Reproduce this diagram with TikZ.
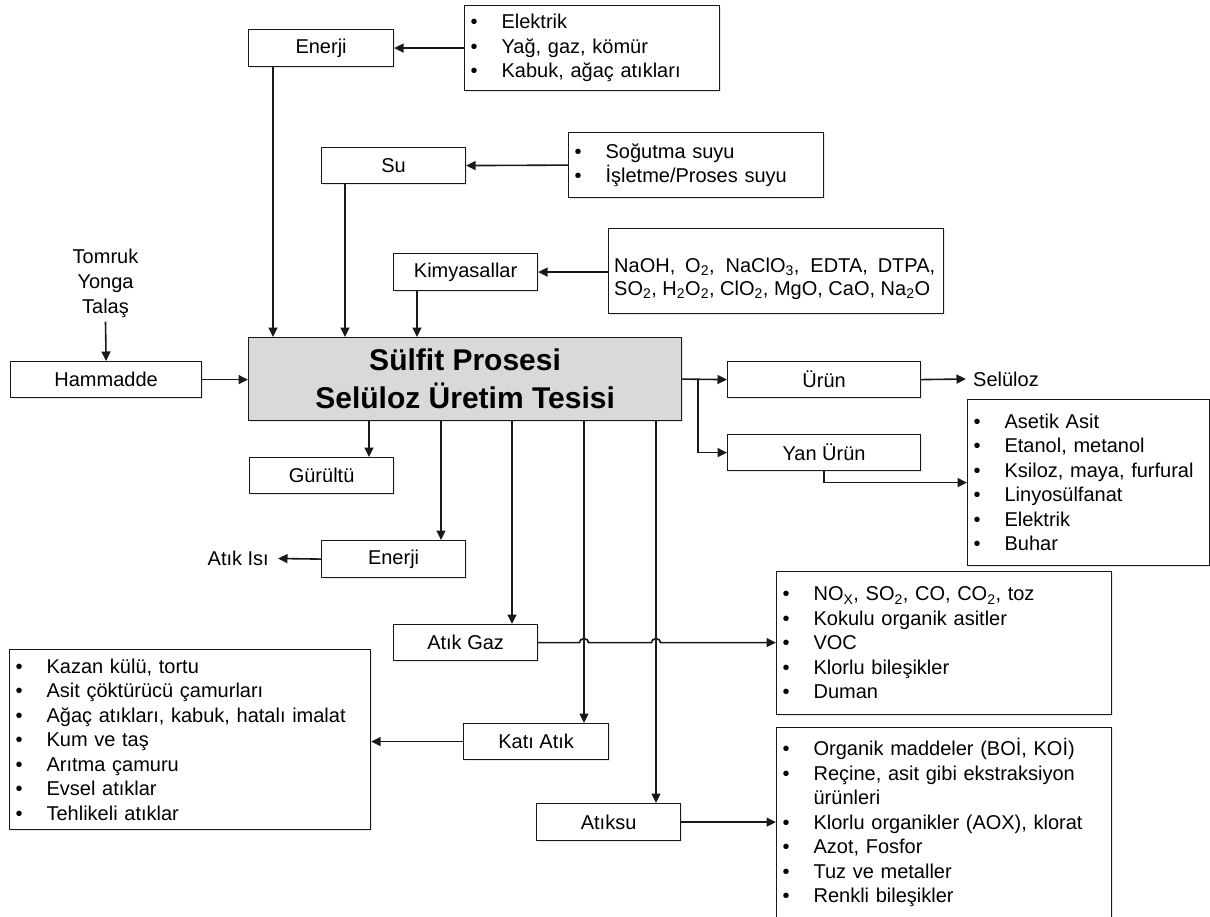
\documentclass[tikz,border=0pt]{standalone}
\usepackage{fontspec}
\setmainfont{Liberation Sans}
\usetikzlibrary{arrows.meta,calc,shadows}

% bullet line and hanging continuation line for the list boxes
\newcommand{\bitem}[1]{\makebox[31pt][l]{\textbullet}#1}
\newcommand{\bcont}[1]{\hspace*{31pt}#1}

\begin{document}
\begin{tikzpicture}[x=1pt,y=-1pt,
  box/.style={draw=black!90, line width=1.2pt, fill=white, anchor=north west,
    inner sep=0pt, font=\fontsize{20}{24.5}\selectfont,
    drop shadow={opacity=0.18, shadow xshift=1.5pt, shadow yshift=-1.5pt}},
  smallbox/.style={box, minimum width=#1, minimum height=36pt},
  listbox/.style={box, align=left, inner xsep=6pt},
  plain/.style={inner sep=0pt, font=\fontsize{20}{24.5}\selectfont},
  arr/.style={line width=1.6pt, draw=black!90, -{Triangle[length=9.5pt,width=9pt]}},
]
\useasboundingbox (0,0) rectangle (1210,917);
\clip (0,0) rectangle (1210,917);

% ---------- inputs ----------
\node[smallbox=145pt, minimum height=37pt] (enerji) at (248,29) {Enerji};
\node[listbox, text width=243pt, minimum height=85pt] (elist) at (464,5)
  {\bitem{Elektrik}\\ \bitem{Yağ, gaz, kömür}\\ \bitem{Kabuk, ağaç atıkları}};

\node[smallbox=144pt] (su) at (321,147) {Su};
\node[listbox, text width=243pt, minimum height=65pt] (sulist) at (568,132)
  {\bitem{Soğutma suyu}\\ \bitem{İşletme/Proses suyu}};

\node[smallbox=144pt, minimum height=37pt] (kimya) at (393,253) {Kimyasallar};
\node[box, minimum width=335pt, minimum height=85pt] (chembox) at (608,228) {};
\node[plain, anchor=west, align=left, font=\fontsize{20}{23}\selectfont] (chemtext) at (614,278.5)
  {\makebox[321pt][s]{NaOH, O\textsubscript{2}, NaClO\textsubscript{3}, EDTA, DTPA,}\\
   SO\textsubscript{2}, H\textsubscript{2}O\textsubscript{2}, ClO\textsubscript{2}, MgO, CaO, Na\textsubscript{2}O};

\node[plain, align=center, font=\fontsize{20}{25}\selectfont, inner ysep=4pt] (raw) at (105.5,283)
  {Tomruk\\ Yonga\\ Talaş};
\node[smallbox=191pt] (hammadde) at (10,361) {Hammadde};

% ---------- process ----------
\node[box, fill=black!15, minimum width=433pt, minimum height=83pt, align=center,
  font=\bfseries\fontsize{30}{38}\selectfont] (main) at (248,337)
  {Sülfit Prosesi\\ Selüloz Üretim Tesisi};

% ---------- products ----------
\node[smallbox=193pt] (urun) at (727,361) {Ürün};
\node[plain, anchor=west, inner xsep=7pt] (selu) at (966,379) {Selüloz};
\node[smallbox=193pt] (yan) at (727,434) {Yan Ürün};
\node[listbox, text width=230pt, minimum height=166pt] (yanlist) at (967,399)
  {\bitem{Asetik Asit}\\ \bitem{Etanol, metanol}\\ \bitem{Ksiloz, maya, furfural}\\
   \bitem{Linyosülfanat}\\ \bitem{Elektrik}\\ \bitem{Buhar}};

% ---------- outputs ----------
\node[smallbox=144pt] (gurultu) at (249,457) {Gürültü};
\node[smallbox=144pt, minimum height=37pt] (enerji2) at (321,540) {Enerji};
\node[plain, anchor=east, inner xsep=9pt] (atikisi) at (278,558.5) {Atık Isı};

\node[smallbox=144pt] (atikgaz) at (393,624) {Atık Gaz};
\node[listbox, text width=323pt, minimum height=143pt] (noxlist) at (776,571)
  {\bitem{NO\textsubscript{X}, SO\textsubscript{2}, CO, CO\textsubscript{2}, toz}\\
   \bitem{Kokulu organik asitler}\\ \bitem{VOC}\\ \bitem{Klorlu bileşikler}\\ \bitem{Duman}};

\node[smallbox=145pt] (katiatik) at (463,723) {Katı Atık};
\node[listbox, text width=349pt, minimum height=180pt] (leftlist) at (9,649)
  {\bitem{Kazan külü, tortu}\\ \bitem{Asit çöktürücü çamurları}\\
   \bitem{Ağaç atıkları, kabuk, hatalı imalat}\\ \bitem{Kum ve taş}\\
   \bitem{Arıtma çamuru}\\ \bitem{Evsel atıklar}\\ \bitem{Tehlikeli atıklar}};

\node[smallbox=144pt, minimum height=37pt] (atiksu) at (536,803) {Atıksu};
\node[listbox, text width=323pt, minimum height=190pt] (atiksulist) at (776,727)
  {\bitem{Organik maddeler (BOİ, KOİ)}\\ \bitem{Reçine, asit gibi ekstraksiyon}\\
   \bcont{ürünleri}\\ \bitem{Klorlu organikler (AOX), klorat}\\ \bitem{Azot, Fosfor}\\
   \bitem{Tuz ve metaller}\\ \bitem{Renkli bileşikler}};

% ---------- connectors: inputs ----------
\draw[arr] (elist.west) -- (enerji.east);
\draw[arr] (sulist.west) -- (su.east);
\draw[arr] (chembox.west |- kimya.east) -- (kimya.east);

\coordinate (ein) at ([xshift=25pt]enerji.south west);
\coordinate (sin) at ([xshift=24pt]su.south west);
\coordinate (kin) at ([xshift=24pt]kimya.south west);
\draw[arr] (ein) -- (ein |- main.north);
\draw[arr] (sin) -- (sin |- main.north);
\draw[arr] (kin) -- (kin |- main.north);

\draw[arr] (raw.south) -- (hammadde.north);
\draw[arr] (hammadde.east) -- (main.west |- hammadde.east);

% ---------- connectors: products ----------
\coordinate (br) at ([xshift=16pt]main.east);
\draw[arr] (main.east) -- (urun.west);
\draw[arr] (br) |- (yan.west);
\draw[arr] (urun.east) -- (selu.west);
\draw[arr] (yan.south) |- (yanlist.west);

% ---------- connectors: outputs ----------
\coordinate (gx) at ([xshift=121pt]main.south west);
\coordinate (nx) at ([xshift=193pt]main.south west);
\coordinate (ax) at ([xshift=264pt]main.south west);
\coordinate (kx) at ([xshift=336pt]main.south west);
\coordinate (wx) at ([xshift=408pt]main.south west);
\draw[arr] (gx) -- (gx |- gurultu.north);
\draw[arr] (nx) -- (nx |- enerji2.north);
\draw[arr] (ax) -- (ax |- atikgaz.north);
\draw[arr] (kx) -- (kx |- katiatik.north);
\draw[arr] (wx) -- (wx |- atiksu.north);

\draw[arr] (enerji2.west) -- (atikisi.east);
% gas line hops over the two vertical lines it crosses
\draw[arr] (atikgaz.east)
  -- ($(atikgaz.east -| kx)+(-4.5pt,0)$) arc[start angle=180, end angle=0, x radius=4.5pt, y radius=4pt]
  -- ($(atikgaz.east -| wx)+(-4.5pt,0)$) arc[start angle=180, end angle=0, x radius=4.5pt, y radius=4pt]
  -- (atikgaz.east -| noxlist.west);
\draw[arr] (katiatik.west) -- (katiatik.west -| leftlist.east);
\draw[arr] (atiksu.east) -- (atiksu.east -| atiksulist.west);
\end{tikzpicture}
\end{document}
